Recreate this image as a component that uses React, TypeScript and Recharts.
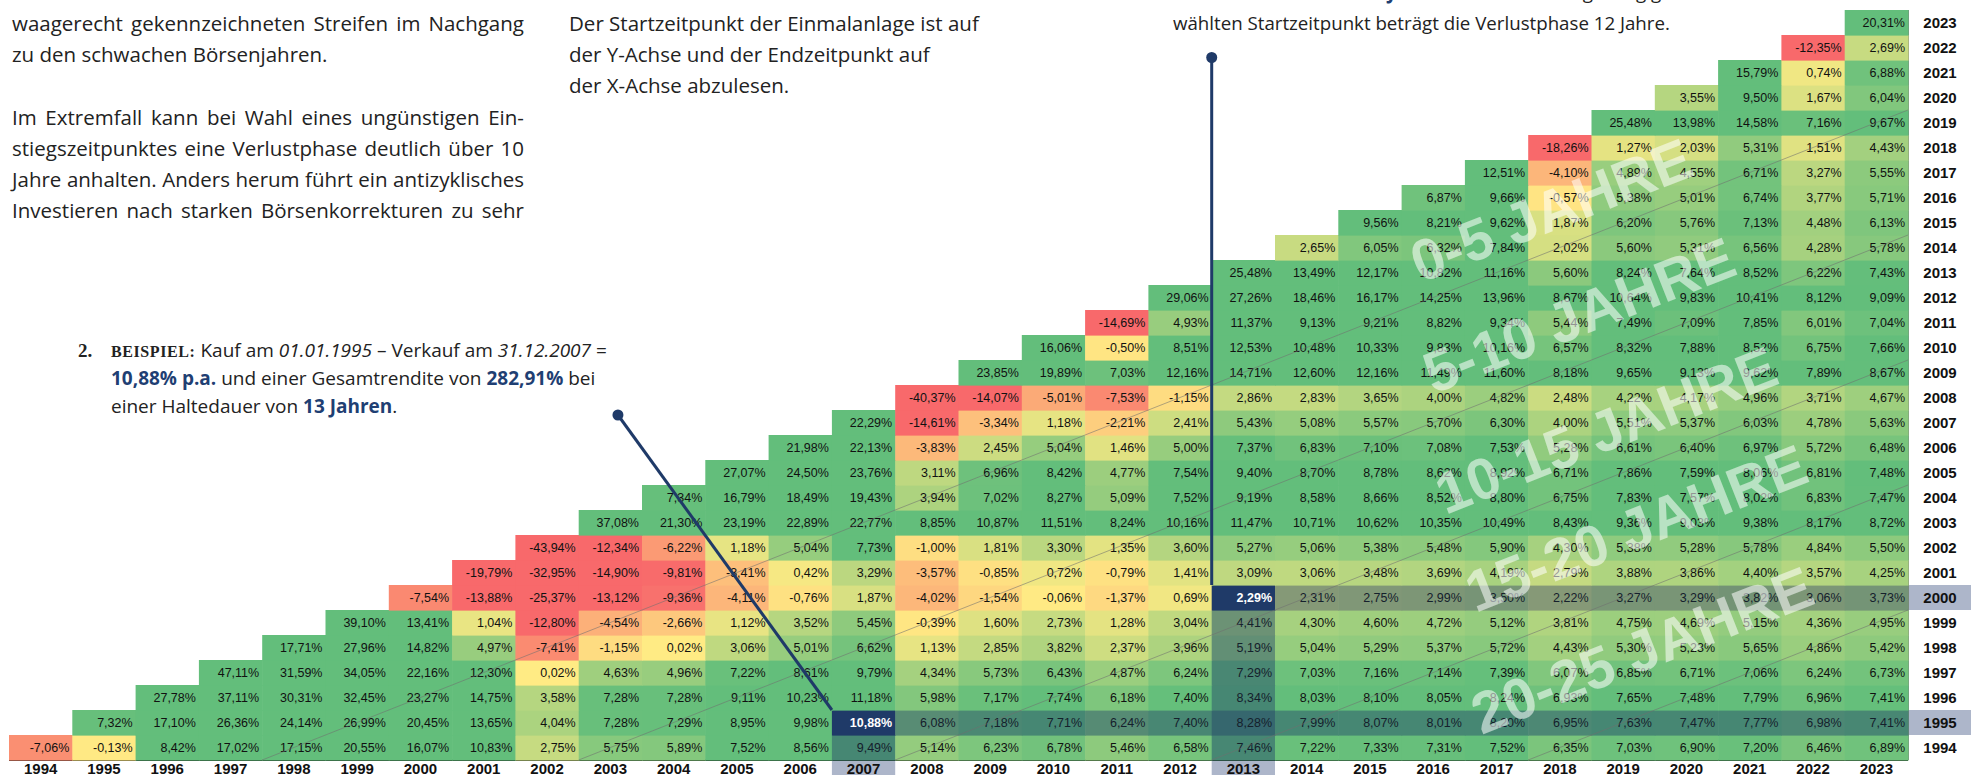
import React from "react";
import { ScatterChart, Scatter, XAxis, YAxis, ReferenceLine, ReferenceDot } from "recharts";

// Start year (row, y axis) -> annualised return for each end year from the start year up to 2023
const YEARS = [1994, 1995, 1996, 1997, 1998, 1999, 2000, 2001, 2002, 2003, 2004, 2005, 2006, 2007, 2008,
  2009, 2010, 2011, 2012, 2013, 2014, 2015, 2016, 2017, 2018, 2019, 2020, 2021, 2022, 2023];

const r1994 = [-7.06, -0.13, 8.42, 17.02, 17.15, 20.55, 16.07, 10.83, 2.75, 5.75, 5.89, 7.52, 8.56, 9.49, 5.14, 6.23, 6.78, 5.46, 6.58, 7.46, 7.22, 7.33, 7.31, 7.52, 6.35, 7.03, 6.90, 7.20, 6.46, 6.89];
const r1995 = [7.32, 17.10, 26.36, 24.14, 26.99, 20.45, 13.65, 4.04, 7.28, 7.29, 8.95, 9.98, 10.88, 6.08, 7.18, 7.71, 6.24, 7.40, 8.28, 7.99, 8.07, 8.01, 8.20, 6.95, 7.63, 7.47, 7.77, 6.98, 7.41];
const r1996 = [27.78, 37.11, 30.31, 32.45, 23.27, 14.75, 3.58, 7.28, 7.28, 9.11, 10.23, 11.18, 5.98, 7.17, 7.74, 6.18, 7.40, 8.34, 8.03, 8.10, 8.05, 8.24, 6.93, 7.65, 7.48, 7.79, 6.96, 7.41];
const r1997 = [47.11, 31.59, 34.05, 22.16, 12.30, 0.02, 4.63, 4.96, 7.22, 8.61, 9.79, 4.34, 5.73, 6.43, 4.87, 6.24, 7.29, 7.03, 7.16, 7.14, 7.39, 6.07, 6.85, 6.71, 7.06, 6.24, 6.73];
const r1998 = [17.71, 27.96, 14.82, 4.97, -7.41, -1.15, 0.02, 3.06, 5.01, 6.62, 1.13, 2.85, 3.82, 2.37, 3.96, 5.19, 5.04, 5.29, 5.37, 5.72, 4.43, 5.30, 5.23, 5.65, 4.86, 5.42];
const r1999 = [39.10, 13.41, 1.04, -12.80, -4.54, -2.66, 1.12, 3.52, 5.45, -0.39, 1.60, 2.73, 1.28, 3.04, 4.41, 4.30, 4.60, 4.72, 5.12, 3.81, 4.75, 4.69, 5.15, 4.36, 4.95];
const r2000 = [-7.54, -13.88, -25.37, -13.12, -9.36, -4.11, -0.76, 1.87, -4.02, -1.54, -0.06, -1.37, 0.69, 2.29, 2.31, 2.75, 2.99, 3.50, 2.22, 3.27, 3.29, 3.82, 3.06, 3.73];
const r2001 = [-19.79, -32.95, -14.90, -9.81, -3.41, 0.42, 3.29, -3.57, -0.85, 0.72, -0.79, 1.41, 3.09, 3.06, 3.48, 3.69, 4.19, 2.79, 3.88, 3.86, 4.40, 3.57, 4.25];
const r2002 = [-43.94, -12.34, -6.22, 1.18, 5.04, 7.73, -1.00, 1.81, 3.30, 1.35, 3.60, 5.27, 5.06, 5.38, 5.48, 5.90, 4.30, 5.38, 5.28, 5.78, 4.84, 5.50];
const r2003 = [37.08, 21.30, 23.19, 22.89, 22.77, 8.85, 10.87, 11.51, 8.24, 10.16, 11.47, 10.71, 10.62, 10.35, 10.49, 8.43, 9.36, 9.03, 9.38, 8.17, 8.72];
const r2004 = [7.34, 16.79, 18.49, 19.43, 3.94, 7.02, 8.27, 5.09, 7.52, 9.19, 8.58, 8.66, 8.52, 8.80, 6.75, 7.83, 7.57, 8.02, 6.83, 7.47];
const r2005 = [27.07, 24.50, 23.76, 3.11, 6.96, 8.42, 4.77, 7.54, 9.40, 8.70, 8.78, 8.62, 8.92, 6.71, 7.86, 7.59, 8.06, 6.81, 7.48];
const r2006 = [21.98, 22.13, -3.83, 2.45, 5.04, 1.46, 5.00, 7.37, 6.83, 7.10, 7.08, 7.53, 5.28, 6.61, 6.40, 6.97, 5.72, 6.48];
const r2007 = [22.29, -14.61, -3.34, 1.18, -2.21, 2.41, 5.43, 5.08, 5.57, 5.70, 6.30, 4.00, 5.51, 5.37, 6.03, 4.78, 5.63];
const r2008 = [-40.37, -14.07, -5.01, -7.53, -1.15, 2.86, 2.83, 3.65, 4.00, 4.82, 2.48, 4.22, 4.17, 4.96, 3.71, 4.67];
const r2009 = [23.85, 19.89, 7.03, 12.16, 14.71, 12.60, 12.16, 11.49, 11.60, 8.18, 9.65, 9.13, 9.62, 7.89, 8.67];
const r2010 = [16.06, -0.50, 8.51, 12.53, 10.48, 10.33, 9.83, 10.16, 6.57, 8.32, 7.88, 8.52, 6.75, 7.66];
const r2011 = [-14.69, 4.93, 11.37, 9.13, 9.21, 8.82, 9.34, 5.44, 7.49, 7.09, 7.85, 6.01, 7.04];
const r2012 = [29.06, 27.26, 18.46, 16.17, 14.25, 13.96, 8.67, 10.64, 9.83, 10.41, 8.12, 9.09];
const r2013 = [25.48, 13.49, 12.17, 10.82, 11.16, 5.60, 8.24, 7.64, 8.52, 6.22, 7.43];
const r2014 = [2.65, 6.05, 6.32, 7.84, 2.02, 5.60, 5.31, 6.56, 4.28, 5.78];
const r2015 = [9.56, 8.21, 9.62, 1.87, 6.20, 5.76, 7.13, 4.48, 6.13];
const r2016 = [6.87, 9.66, -0.57, 5.38, 5.01, 6.74, 3.77, 5.71];
const r2017 = [12.51, -4.10, 4.89, 4.55, 6.71, 3.27, 5.55];
const r2018 = [-18.26, 1.27, 2.03, 5.31, 1.51, 4.43];
const r2019 = [25.48, 13.98, 14.58, 7.16, 9.67];
const r2020 = [3.55, 9.50, 1.67, 6.04];
const r2021 = [15.79, 0.74, 6.88];
const r2022 = [-12.35, 2.69];
const r2023 = [20.31];

const ROWS = [r1994, r1995, r1996, r1997, r1998, r1999, r2000, r2001, r2002, r2003, r2004, r2005, r2006, r2007,
  r2008, r2009, r2010, r2011, r2012, r2013, r2014, r2015, r2016, r2017, r2018, r2019, r2020, r2021, r2022, r2023];

// the two worked examples (start year, end year)
const EXAMPLES = [{ start: 1995, end: 2007 }, { start: 2000, end: 2013 }];
// diagonal zone lines: end - start offsets
const ZONE_OFFSETS = [4, 9, 14, 19, 24];
const ZONE_LABELS = ["0-5 JAHRE", "5-10 JAHRE", "10-15 JAHRE", "15-20 JAHRE", "20-25 JAHRE"];

const W = 1971;
const H = 775;
const MARGIN = { top: 10, right: 0, bottom: 0, left: 9 };
const Y_AXIS_W = 63;
const X_AXIS_H = 15;
const PLOT_RIGHT = W - MARGIN.right - Y_AXIS_W;
const PLOT_BOTTOM = H - MARGIN.bottom - X_AXIS_H;
const CELL_W = (PLOT_RIGHT - MARGIN.left) / YEARS.length;
const CELL_H = (PLOT_BOTTOM - MARGIN.top) / YEARS.length;

const NAVY = "#1f3a68";
const NAVY_RGB = [31, 58, 104];
const LABEL_BG = "#adb6ca";
const CELL_FONT = '"Liberation Sans", Arial, sans-serif';
const SANS = '"Open Sans", sans-serif';
const TXT = "#222";
const BLUE = "#1f3f73";

const YELLOW = [255, 235, 132];
const RED = [248, 105, 107];
const GREEN = [99, 190, 123];

const mix = (a: number[], b: number[], t: number) => a.map((v, i) => Math.round(v + (b[i] - v) * t));

function cellRgb(v: number) {
  if (v <= 0) return mix(YELLOW, RED, Math.min(1, -v / 10));
  return mix(YELLOW, GREEN, Math.min(1, v / 7.5));
}

const fmt = (v: number) => v.toFixed(2).replace(".", ",") + "%";

const cells = ROWS.flatMap((row, i) => row.map((v, j) => ({ x: YEARS[i] + j, y: YEARS[i], v })));

function HeatCell(props: any) {
  const { cx, cy, payload } = props;
  if (cx == null || cy == null) return null;
  const { x: end, y: start, v } = payload;
  const hl = EXAMPLES.some((e) => e.start === start && e.end === end);
  // shaded stripes leading to the two examples
  let bands = 0;
  if (start === 2000 && end > 2013) bands++;
  if (start === 1995 && end > 2007) bands++;
  if (end === 2013 && start < 2000) bands++;
  if (end === 2007 && start < 1995) bands++;
  let rgb = cellRgb(v);
  for (let k = 0; k < bands; k++) rgb = mix(rgb, NAVY_RGB, 0.42);
  const fill = hl ? NAVY : `rgb(${rgb.join(",")})`;
  return (
    <g>
      <rect x={cx - CELL_W / 2} y={cy - CELL_H / 2} width={CELL_W + 0.6} height={CELL_H + 0.6} fill={fill} />
      <text
        x={cx + CELL_W / 2 - 3}
        y={cy}
        dy="0.36em"
        textAnchor="end"
        fontSize={12.5}
        fontFamily={CELL_FONT}
        fontWeight={hl ? 700 : 400}
        fill={hl ? "#fff" : bands ? "#15202c" : "#111"}
      >
        {fmt(v)}
      </text>
    </g>
  );
}

function XTick({ x, payload }: any) {
  const hl = EXAMPLES.some((e) => e.end === payload.value);
  return (
    <g>
      {hl && <rect x={x - CELL_W / 2} y={PLOT_BOTTOM + 1} width={CELL_W} height={X_AXIS_H} fill={LABEL_BG} />}
      <text x={x} y={PLOT_BOTTOM + 8.5} dy="0.36em" textAnchor="middle" fontSize={15} fontWeight={700} fontFamily={CELL_FONT} fill="#111">
        {payload.value}
      </text>
    </g>
  );
}

function YTick({ y, payload }: any) {
  const hl = EXAMPLES.some((e) => e.start === payload.value);
  return (
    <g>
      {hl && <rect x={PLOT_RIGHT + 1} y={y - CELL_H / 2} width={W - PLOT_RIGHT} height={CELL_H} fill={LABEL_BG} />}
      <text x={PLOT_RIGHT + 32} y={y} dy="0.36em" textAnchor="middle" fontSize={15} fontWeight={700} fontFamily={CELL_FONT} fill="#111">
        {payload.value}
      </text>
    </g>
  );
}

function Line({ x, y, w, size = 20.5, justify, children }: any) {
  const style: any = {
    position: "absolute", left: x, top: y - 16, height: 32, lineHeight: "32px",
    fontSize: size, fontFamily: SANS, color: TXT, whiteSpace: "nowrap",
  };
  if (justify) {
    style.width = w;
    style.display = "flex";
    style.justifyContent = "space-between";
  }
  return <div style={style}>{children}</div>;
}

const words = (s: string) => s.split(" ").map((t, i) => <span key={i}>{t}</span>);
const B = ({ children }: any) => <b style={{ color: BLUE, fontWeight: 700 }}>{children}</b>;

// rough centres of the diagonal zone captions
const ZONE_POS = [[1551, 210], [1579, 315], [1606, 430], [1636, 528], [1642, 650]];

export default function App() {
  return (
    <div style={{ position: "absolute", left: 0, top: 0, width: W, height: H, background: "#fff", overflow: "hidden" }}>
      {/* text around the chart */}
      <Line x={12} y={23} w={512} justify>{words("waagerecht gekennzeichneten Streifen im Nachgang")}</Line>
      <Line x={12} y={54}>zu den schwachen Börsenjahren.</Line>
      <Line x={12} y={117} w={512} justify>{words("Im Extremfall kann bei Wahl eines ungünstigen Ein-")}</Line>
      <Line x={12} y={148} w={512} justify>{words("stiegszeitpunktes eine Verlustphase deutlich über 10")}</Line>
      <Line x={12} y={179} w={512} justify>{words("Jahre anhalten. Anders herum führt ein antizyklisches")}</Line>
      <Line x={12} y={210} w={512} justify>{words("Investieren nach starken Börsenkorrekturen zu sehr")}</Line>

      <Line x={569} y={23}>Der Startzeitpunkt der Einmalanlage ist auf</Line>
      <Line x={569} y={54}>der Y-Achse und der Endzeitpunkt auf</Line>
      <Line x={569} y={85}>der X-Achse abzulesen.</Line>

      <Line x={1173} y={-8} size={18.7}>einer Haltedauer von <B>14 Jahren</B>. Bei diesem ungünstig ge-</Line>
      <Line x={1173} y={23} size={18.7}>wählten Startzeitpunkt beträgt die Verlustphase 12 Jahre.</Line>

      <Line x={78} y={350} size={19}>
        <span style={{ fontFamily: '"Liberation Serif", serif', fontWeight: 700 }}>2.</span>
      </Line>
      <Line x={111} y={350} size={19}>
        <span style={{ fontFamily: '"Liberation Serif", serif', fontWeight: 700, fontSize: 16, letterSpacing: 0.6 }}>BEISPIEL:</span>{" "}
        Kauf am <i>01.01.1995</i> – Verkauf am <i>31.12.2007</i> =
      </Line>
      <Line x={111} y={378} size={19}><B>10,88% p.a.</B> und einer Gesamtrendite von <B>282,91%</B> bei</Line>
      <Line x={111} y={406} size={19}>einer Haltedauer von <B>13 Jahren</B>.</Line>

      <div style={{ position: "absolute", left: 0, top: 0 }}>
        <ScatterChart width={W} height={H} margin={MARGIN}>
          <XAxis
            type="number"
            dataKey="x"
            domain={[1993.5, 2023.5]}
            ticks={YEARS}
            interval={0}
            tick={<XTick />}
            tickLine={false}
            axisLine={{ stroke: "#000", strokeWidth: 2 }}
            height={X_AXIS_H}
          />
          <YAxis
            type="number"
            dataKey="y"
            orientation="right"
            domain={[1993.5, 2023.5]}
            ticks={YEARS}
            interval={0}
            tick={<YTick />}
            tickLine={false}
            axisLine={{ stroke: "#555", strokeWidth: 1.5 }}
            width={Y_AXIS_W}
          />
          <Scatter data={cells} shape={<HeatCell />} isAnimationActive={false} />
          {ZONE_OFFSETS.map((d) => (
            <ReferenceLine
              key={d}
              segment={[{ x: 1993.5 + d, y: 1993.5 }, { x: 2023.5, y: 2023.5 - d }]}
              stroke="#6f6f6f"
              strokeOpacity={0.55}
              strokeWidth={1}
              ifOverflow="visible"
              zIndex={900}
            />
          ))}
          <ReferenceLine
            segment={[{ x: 2003.12, y: 2007.3 }, { x: 2006.5, y: 1995.5 }]}
            stroke={NAVY}
            strokeWidth={3}
            ifOverflow="visible"
            zIndex={950}
          />
          <ReferenceLine
            segment={[{ x: 2012.5, y: 2021.6 }, { x: 2012.5, y: 2000.5 }]}
            stroke={NAVY}
            strokeWidth={3}
            ifOverflow="visible"
            zIndex={950}
          />
          <ReferenceDot x={2003.12} y={2007.3} r={5.5} fill={NAVY} stroke="none" ifOverflow="visible" zIndex={960} />
          <ReferenceDot x={2012.5} y={2021.6} r={5.5} fill={NAVY} stroke="none" ifOverflow="visible" zIndex={960} />
        </ScatterChart>
      </div>

      <svg width={W} height={H} style={{ position: "absolute", left: 0, top: 0, pointerEvents: "none" }}>
        {ZONE_LABELS.map((t, i) => (
          <text
            key={t}
            x={ZONE_POS[i][0]}
            y={ZONE_POS[i][1]}
            dy="0.35em"
            textAnchor="middle"
            transform={`rotate(-21.5 ${ZONE_POS[i][0]} ${ZONE_POS[i][1]})`}
            fontFamily={CELL_FONT}
            fontWeight={700}
            fontSize={58}
            fill="#fff"
            fillOpacity={0.55}
          >
            {t}
          </text>
        ))}
      </svg>
    </div>
  );
}
